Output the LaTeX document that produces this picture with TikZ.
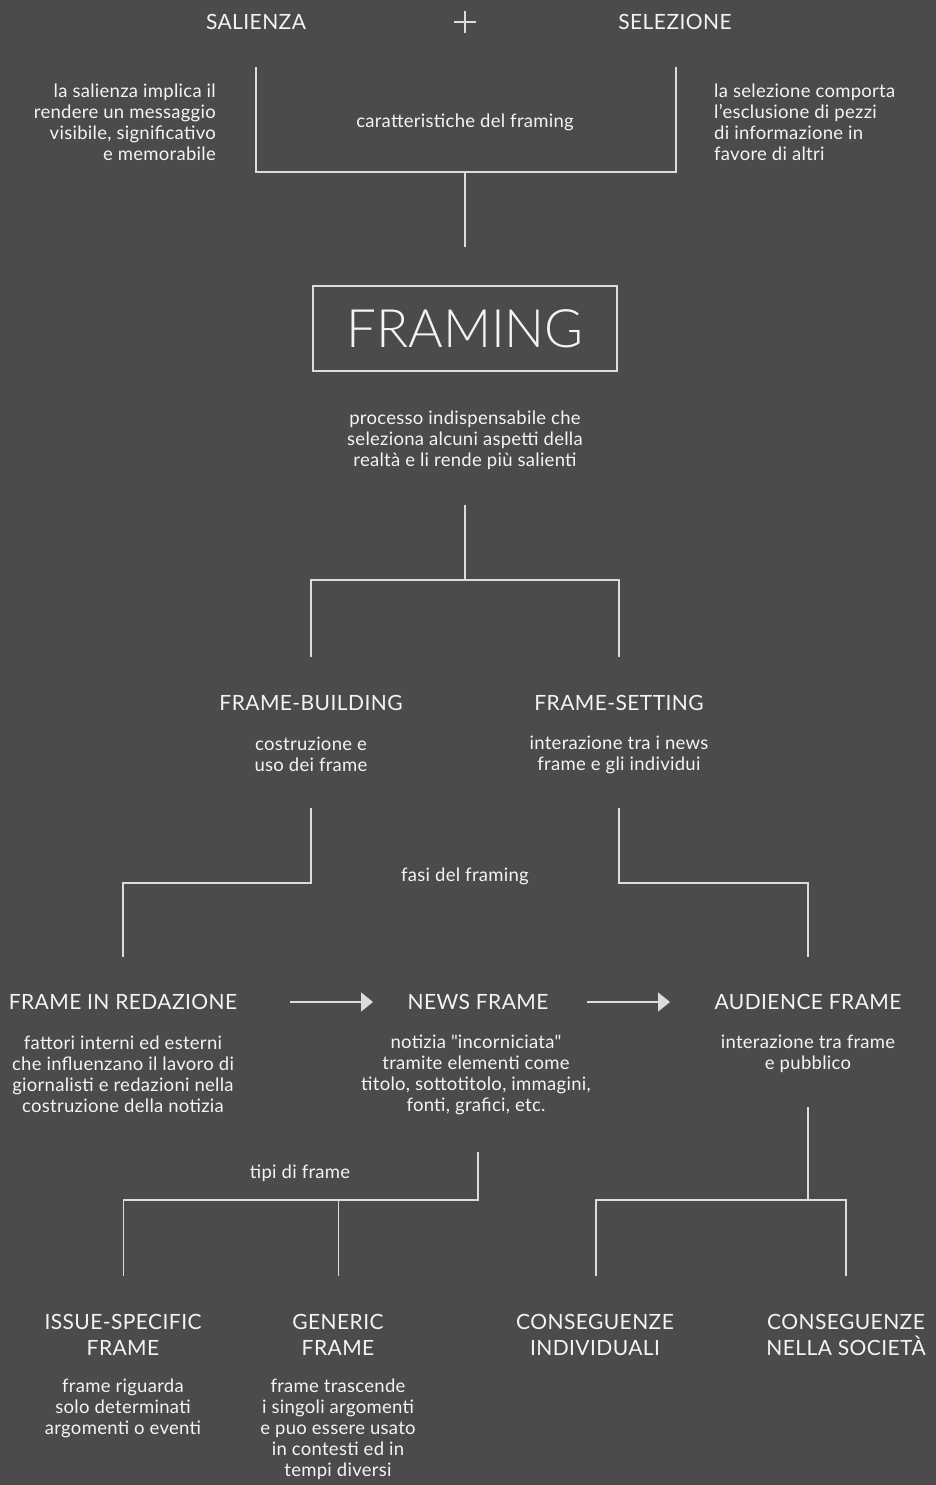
\documentclass[tikz,border=0pt]{standalone}
\usepackage{fontspec}
\setmainfont{Lato}
\newfontfamily\lightfont{Lato Light}
\usetikzlibrary{arrows.meta}
\definecolor{bg}{HTML}{4B4B4D}
\definecolor{ink}{HTML}{F4F4F4}
\definecolor{wire}{HTML}{DCDCDC}
\tikzset{
  conn/.style={draw=wire, line width=1.5pt},
  flow/.style={conn, -{Triangle[length=12pt,width=19pt]}},
  head/.style={text=ink, inner sep=0pt, align=center,
    font=\fontsize{21}{26}\selectfont\addfontfeature{LetterSpace=2}},
  body/.style={text=ink, inner sep=0pt, align=center,
    font=\fontsize{18.5}{21}\selectfont\addfontfeature{LetterSpace=1.5}},
  title/.style={draw=wire, line width=1.5pt, text=ink, minimum width=304pt, minimum height=85pt,
    inner sep=0pt, font=\lightfont\fontsize{53}{60}\selectfont},
}
\begin{document}
\begin{tikzpicture}[x=1pt, y=-1pt]
\fill[bg] (0,0) rectangle (936,1485);
\useasboundingbox (0,0) rectangle (936,1485);

% --- the two features of framing
\node[head] (sal) at (256,22) {SALIENZA};
\node[head] (sel) at (675,22) {SELEZIONE};
\coordinate (plus) at (465,22);
\draw[conn, line width=2pt] ([xshift=-11pt]plus) -- ([xshift=11pt]plus);
\draw[conn, line width=2pt] ([yshift=-11pt]plus) -- ([yshift=11pt]plus);

\node[body, anchor=east, align=right] (salD) at (216,122)
  {la salienza implica il\\rendere un messaggio\\visibile, significativo\\e memorabile};
\node[body, anchor=west, align=left] (selD) at (714,122)
  {la selezione comporta\\l'esclusione di pezzi\\di informazione in\\favore di altri};
\node[body] (car) at (465,122) {caratteristiche del framing};

\coordinate (b1l) at (256,67);
\coordinate (b1r) at (676,67);
\coordinate (b1m) at (465,172);
\coordinate (b1e) at (465,247);
\draw[conn] (b1l) |- (b1m) -| (b1r);
\draw[conn] (b1m) -- (b1e);

% --- central concept
\node[title] (framing) at (465,328.5) {FRAMING};
\node[body] (proc) at (465,440)
  {processo indispensabile che\\seleziona alcuni aspetti della\\realtà e li rende più salienti};

\coordinate (b2s) at (465,505);
\coordinate (b2m) at (465,580);
\coordinate (b2l) at (311,657);
\coordinate (b2r) at (619,657);
\draw[conn] (b2s) -- (b2m);
\draw[conn] (b2l) |- (b2m) -| (b2r);

% --- phases
\node[head] (fb) at (311,703) {FRAME-BUILDING};
\node[body] (fbD) at (311,754.5) {costruzione e\\uso dei frame};
\node[head] (fs) at (619,703) {FRAME-SETTING};
\node[body] (fsD) at (619,754.5) {interazione tra i news\\frame e gli individui};

\coordinate (b3l) at (311,808);
\coordinate (b3le) at (123,957);
\coordinate (b3r) at (619,808);
\coordinate (b3re) at (808,957);
\draw[conn] (b3l) -- (311,883) -| (b3le);
\draw[conn] (b3r) -- (619,883) -| (b3re);
\node[body] (fasi) at (465,876) {fasi del framing};

% --- frame levels
\node[head] (fr) at (123,1002) {FRAME IN REDAZIONE};
\node[head] (nf) at (478,1002) {NEWS FRAME};
\node[head] (af) at (808,1002) {AUDIENCE FRAME};

\coordinate (a1s) at (290,1002);
\coordinate (a1e) at (373,1002);
\coordinate (a2s) at (587,1002);
\coordinate (a2e) at (670,1002);
\draw[flow] (a1s) -- (a1e);
\draw[flow] (a2s) -- (a2e);

\node[body] (frD) at (123,1074.5)
  {fattori interni ed esterni\\che influenzano il lavoro di\\giornalisti e redazioni nella\\costruzione della notizia};
\node[body] (nfD) at (476,1074.5)
  {notizia \textquotedbl incorniciata\textquotedbl\\tramite elementi come\\titolo, sottotitolo, immagini,\\fonti, grafici, etc.};
\node[body] (afD) at (808,1053.5) {interazione tra frame\\e pubblico};

% --- frame types
\coordinate (b4s) at (478,1152);
\coordinate (b4m) at (478,1200);
\coordinate (b4l) at (123.5,1276);
\coordinate (b4c) at (338.5,1276);
\draw[conn] (b4s) -- (b4m) -| (b4l);
\draw[conn] (b4c) -- (338.5,1200);
\node[body] (tipi) at (300,1173) {tipi di frame};

% --- consequences
\coordinate (b5s) at (808,1107);
\coordinate (b5m) at (808,1200);
\coordinate (b5l) at (596,1276);
\coordinate (b5r) at (846,1276);
\draw[conn] (b5s) -- (b5m);
\draw[conn] (b5l) |- (b5m) -| (b5r);

\node[head] (is) at (123,1335) {ISSUE-SPECIFIC\\FRAME};
\node[head] (gen) at (338,1335) {GENERIC\\FRAME};
\node[head] (ci) at (595,1335) {CONSEGUENZE\\INDIVIDUALI};
\node[head] (cs) at (846,1335) {CONSEGUENZE\\NELLA SOCIETÀ};

\node[body] (isD) at (123,1408) {frame riguarda\\solo determinati\\argomenti o eventi};
\node[body] (genD) at (338,1429)
  {frame trascende\\i singoli argomenti\\e puo essere usato\\in contesti ed in\\tempi diversi};
\end{tikzpicture}
\end{document}
